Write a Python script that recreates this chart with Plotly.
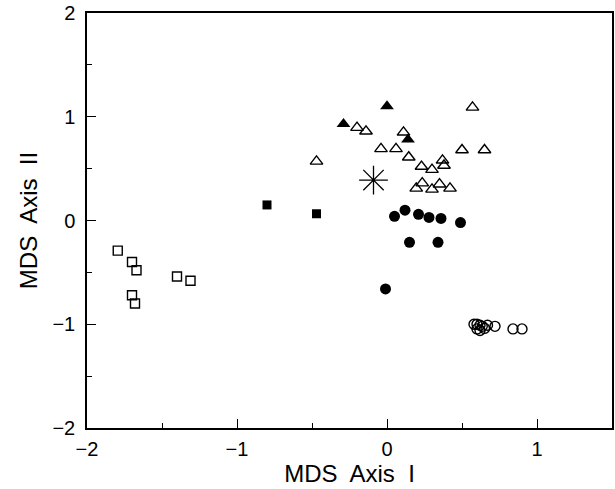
import plotly.graph_objects as go

# MDS ordination scores, one group per marker style
filled_tri_x = [0.00, -0.29, 0.14]
filled_tri_y = [1.10, 0.93, 0.78]

open_tri_x = [0.57, -0.20, -0.14, 0.11, -0.04, 0.06, 0.145, 0.50, 0.65, -0.47,
              0.23, 0.30, 0.37, 0.38, 0.235, 0.195, 0.30, 0.35, 0.42]
open_tri_y = [1.09, 0.895, 0.86, 0.85, 0.69, 0.69, 0.61, 0.68, 0.68, 0.57,
              0.52, 0.49, 0.58, 0.53, 0.36, 0.31, 0.30, 0.35, 0.31]

filled_sq_x = [-0.80, -0.47]
filled_sq_y = [0.15, 0.065]

filled_circ_x = [0.05, 0.12, 0.21, 0.28, 0.36, 0.49, 0.15, 0.34, -0.01]
filled_circ_y = [0.04, 0.10, 0.06, 0.03, 0.02, -0.02, -0.21, -0.21, -0.66]

open_sq_x = [-1.795, -1.70, -1.67, -1.40, -1.31, -1.70, -1.68]
open_sq_y = [-0.29, -0.40, -0.48, -0.54, -0.58, -0.72, -0.80]

open_circ_x = [0.58, 0.60, 0.62, 0.635, 0.62, 0.65, 0.67, 0.60, 0.72, 0.84, 0.90]
open_circ_y = [-1.00, -1.00, -1.01, -1.02, -1.06, -1.04, -1.01, -1.045, -1.02, -1.045, -1.045]

centroid_x = [-0.09]
centroid_y = [0.39]

x_ticks = [-2, -1, 0, 1]
y_ticks = [-2, -1, 0, 1, 2]

FONT = "Liberation Sans, Arial, sans-serif"

fig = go.Figure()


def add(xs, ys, symbol, size, width=1.4):
    fig.add_trace(go.Scatter(
        x=xs, y=ys, mode="markers", showlegend=False,
        marker=dict(symbol=symbol, size=size, color="black",
                    line=dict(color="black", width=width)),
    ))


add(open_tri_x, open_tri_y, "triangle-up-open", 11)
add(filled_tri_x, filled_tri_y, "triangle-up", 12, 0)
add(filled_sq_x, filled_sq_y, "square", 9, 0)
add(filled_circ_x, filled_circ_y, "circle", 11, 0)
add(open_sq_x, open_sq_y, "square-open", 9)
add(open_circ_x, open_circ_y, "circle-open", 10)
add(centroid_x, centroid_y, "asterisk-open", 24, 1.3)

axis_common = dict(
    showline=True, linecolor="black", linewidth=1.5, mirror=True,
    showgrid=False, zeroline=False,
    ticks="inside", ticklen=9, tickwidth=1.2, tickcolor="black",
    tickfont=dict(family=FONT, size=20, color="black"),
    minor=dict(dtick=0.5, ticks="inside", ticklen=5, tickwidth=1.2, tickcolor="black"),
)

fig.update_xaxes(
    range=[-2, 1.5], tickvals=x_ticks, ticklabelstandoff=2,
    title=dict(text="MDS\u00a0 Axis\u00a0 I", standoff=4,
               font=dict(family=FONT, size=24, color="black")),
    **axis_common,
)
fig.update_yaxes(
    range=[-2, 2], tickvals=y_ticks, ticklabelstandoff=6,
    title=dict(text="MDS\u00a0 Axis\u00a0 II", standoff=8,
               font=dict(family=FONT, size=24, color="black")),
    **axis_common,
)

fig.update_layout(
    width=615, height=489,
    margin=dict(l=87, r=1, t=13, b=61),
    paper_bgcolor="white", plot_bgcolor="white",
)

fig.write_html("out.html")
